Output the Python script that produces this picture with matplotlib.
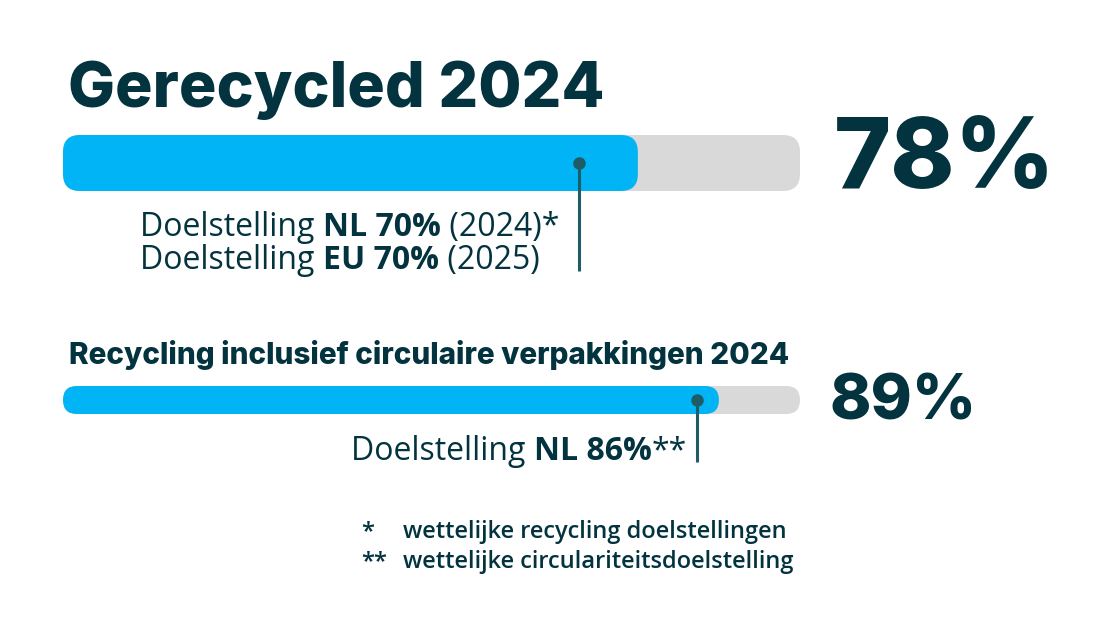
import matplotlib
matplotlib.use("Agg")
import matplotlib.pyplot as plt
from matplotlib.patches import FancyBboxPatch

# Data
titles = ["Gerecycled 2024", "Recycling inclusief circulaire verpakkingen 2024"]
values = [78, 89]
targets = [70, 86]
value_labels = ["78%", "89%"]
target_lines = [
    [[("Doelstelling ", "normal"), ("NL 70%", "bold"), (" (2024)*", "normal")],
     [("Doelstelling ", "normal"), ("EU 70%", "bold"), (" (2025)", "normal")]],
    [[("Doelstelling ", "normal"), ("NL 86%", "bold"), ("**", "normal")]],
]
footnote_marks = ["*", "**"]
footnotes = ["wettelijke recycling doelstellingen", "wettelijke circulariteitsdoelstelling"]

W, H = 1112, 633
DARK = "#02333f"
BLUE = "#00b4f5"
GREY = "#d9d9d9"
MARK = "#1e5c66"
HEAD = "Inter"

fig = plt.figure(figsize=(W / 100, H / 100), dpi=100)
fig.patch.set_facecolor("white")


def fx(x):
    return x / W


def fy(y):
    return 1 - y / H


def bar_axes(top, height):
    ax = fig.add_axes([fx(63), fy(top + height), fx(737), height / H])
    ax.set_xlim(0, 100)
    ax.set_ylim(0, 1)
    ax.axis("off")
    return ax


def rounded(ax, width, color, radius_px, height_px):
    px_per_x = 737 / 100
    aspect = (1 / height_px) / (1 / px_per_x)
    p = FancyBboxPatch((0, 0), width, 1,
                       boxstyle=f"round,pad=0,rounding_size={radius_px / px_per_x}",
                       mutation_aspect=aspect, fc=color, ec="none", clip_on=False)
    ax.add_patch(p)


# bar layout: (top px, height px, corner radius px, stem length px)
layout = [(135, 56, 17, 108), (386, 28, 14, 62)]
axes = []
for i, (top, h, r, stem) in enumerate(layout):
    ax = bar_axes(top, h)
    rounded(ax, 100, GREY, r, h)
    rounded(ax, values[i], BLUE, r, h)
    ax.plot([targets[i], targets[i]], [0.5, 0.5 - stem / h], color=MARK, lw=2.2,
            clip_on=False, solid_capstyle="butt")
    ax.plot(targets[i], 0.5, "o", color=MARK, ms=8, clip_on=False)
    axes.append(ax)

# titles and big numbers
fig.text(fx(68), fy(107), titles[0], fontsize=45, fontweight="heavy",
         family=HEAD, color=DARK, va="baseline")
fig.text(fx(834), fy(188), value_labels[0], fontsize=70, fontweight="heavy",
         family=HEAD, color=DARK, va="baseline")
fig.text(fx(69), fy(364), titles[1], fontsize=21.4, fontweight="heavy",
         family=HEAD, color=DARK, va="baseline")
fig.text(fx(830), fy(420), value_labels[1], fontsize=45, fontweight="heavy",
         family=HEAD, color=DARK, va="baseline")


# mixed weight labels: each part anchored to the end of the previous one
def mixed(x, y, parts, size):
    prev = fig.text(fx(x), fy(y), parts[0][0], fontsize=size, fontweight=parts[0][1],
                    family="Open Sans", color=DARK, va="baseline")
    for s, w in parts[1:]:
        prev = axes[0].annotate(s, xy=(1, 0), xycoords=prev, fontsize=size,
                                fontweight=w, family="Open Sans", color=DARK,
                                va="bottom", ha="left", annotation_clip=False)


mixed(140, 236, target_lines[0][0], 23)
mixed(140, 269, target_lines[0][1], 23)
mixed(351, 460, target_lines[1][0], 23)

# footnotes
for i, (m, s) in enumerate(zip(footnote_marks, footnotes)):
    y = 538 + i * 30
    fig.text(fx(361), fy(y), m, fontsize=17, fontweight="semibold",
             family="Open Sans", color=DARK, va="baseline")
    fig.text(fx(403), fy(y), s, fontsize=17, fontweight="semibold",
             family="Open Sans", color=DARK, va="baseline")

fig.savefig("out.png", dpi=100, facecolor="white")
